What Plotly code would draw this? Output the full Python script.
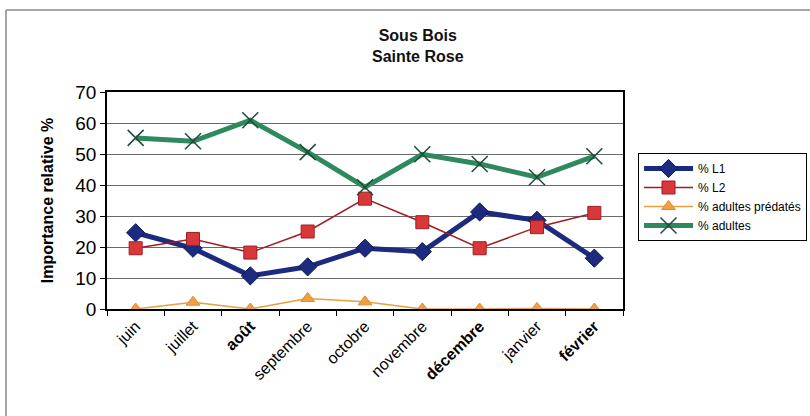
import plotly.graph_objects as go

months = ["juin", "juillet", "août", "septembre", "octobre", "novembre", "décembre", "janvier", "février"]
month_labels = ["juin", "juillet", "<b>août</b>", "septembre", "octobre", "novembre", "<b>décembre</b>", "janvier", "<b>février</b>"]
l1 = [24.6, 19.6, 10.7, 13.6, 19.6, 18.5, 31.3, 28.6, 16.4]
l2 = [19.6, 22.6, 18.2, 25.0, 35.6, 28.0, 19.6, 26.4, 31.0]
predates = [0.0, 2.2, 0.0, 3.4, 2.3, 0.0, 0.0, 0.2, 0.0]
adultes = [55.2, 54.1, 60.9, 50.6, 39.3, 49.9, 46.8, 42.5, 49.3]

font = "Liberation Sans, Arial, sans-serif"

fig = go.Figure()
fig.add_trace(go.Scatter(x=months, y=l1, name="% L1", mode="lines+markers",
                         line=dict(color="#1c2a80", width=5),
                         marker=dict(symbol="diamond", size=14, color="#1c2a80",
                                     line=dict(color="#101850", width=1))))
fig.add_trace(go.Scatter(x=months, y=l2, name="% L2", mode="lines+markers",
                         line=dict(color="#a01c24", width=1.5),
                         marker=dict(symbol="square", size=13, color="#d8383a",
                                     line=dict(color="#a01c24", width=1))))
fig.add_trace(go.Scatter(x=months, y=predates, name="% adultes prédatés", mode="lines+markers",
                         line=dict(color="#e8a040", width=1.5),
                         marker=dict(symbol="triangle-up", size=12, color="#f0a040",
                                     line=dict(color="#e08a30", width=1))))
fig.add_trace(go.Scatter(x=months, y=adultes, name="% adultes", mode="lines+markers",
                         line=dict(color="#2e8a5e", width=5),
                         marker=dict(symbol="x-thin", size=16, color="#1f4a38",
                                     line=dict(color="#1f4a38", width=1.5))))

fig.update_layout(
    width=810, height=416,
    margin=dict(l=107, r=187, t=92, b=107, autoexpand=False),
    paper_bgcolor="white", plot_bgcolor="white",
    font=dict(family=font, color="black"),
    xaxis=dict(tickmode="array", tickvals=months, ticktext=month_labels,
               tickangle=-45, tickfont=dict(size=16, family=font),
               tickson="boundaries", ticks="outside", ticklen=5, tickcolor="black",
               showline=True, linecolor="black", linewidth=1.5, mirror=True,
               showgrid=False, range=[-0.5, 8.5]),
    yaxis=dict(range=[0, 70], dtick=10, tickfont=dict(size=19, family=font),
               ticks="outside", ticklen=5, tickcolor="black",
               showline=True, linecolor="black", linewidth=1.5, mirror=True,
               showgrid=True, gridcolor="#6a6a6a", gridwidth=1, zeroline=False,
               title=dict(text="<b>Importance relative %</b>", font=dict(size=16, family=font),
                          standoff=18)),
    legend=dict(x=(638 - 107) / 516, xanchor="left", y=(309 - 153) / 217, yanchor="top",
                bordercolor="black", borderwidth=1, bgcolor="white",
                font=dict(size=12, family=font), tracegroupgap=0, itemwidth=49),
    showlegend=True,
)

fig.add_annotation(text="<b>Sous Bois<br>Sainte Rose</b>", xref="paper", yref="paper",
                   x=(418 - 107) / 516, y=(309 - 46) / 217, xanchor="center", yanchor="middle",
                   showarrow=False, font=dict(size=16, family=font, color="#111"))

fig.add_shape(type="line", xref="paper", yref="paper",
              x0=-(107 - 6) / 516, x1=(830 - 107) / 516, y0=(309 - 10) / 217, y1=(309 - 10) / 217,
              line=dict(color="#888", width=1.5))
fig.add_shape(type="line", xref="paper", yref="paper",
              x0=-(107 - 6) / 516, x1=-(107 - 6) / 516, y0=(309 - 10) / 217, y1=-(430 - 309) / 217,
              line=dict(color="#888", width=1.5))

fig.write_html("out.html")
